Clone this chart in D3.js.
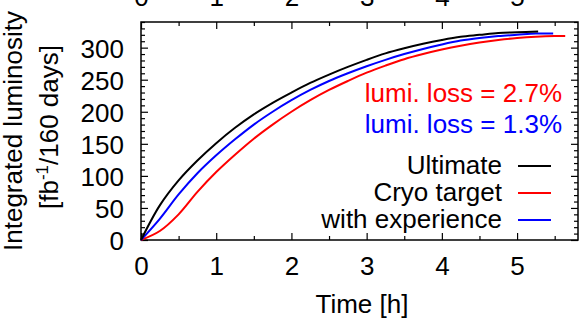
<!DOCTYPE html>
<html>
<head>
<meta charset="utf-8">
<script src="https://cdn.jsdelivr.net/npm/d3@7"></script>
<style>
  html, body { margin: 0; padding: 0; background: #fff; }
  svg { display: block; }
  text { font-family: "Liberation Sans", Arial, sans-serif; }
</style>
</head>
<body>
<script>
// values
const tUltimate = [0, 0.25, 0.5, 0.75, 1, 1.25, 1.5, 1.75, 2, 2.25, 2.5, 2.75, 3, 3.25, 3.5, 3.75, 4, 4.25, 4.5, 4.75, 5, 5.28];
const lumUltimate = [0, 54, 93, 124, 151, 175, 196, 214, 230, 245, 258, 270, 281, 291, 299, 306, 312, 317, 320, 323, 324, 325];

const tCryo = [0, 0.25, 0.5, 0.75, 1, 1.25, 1.5, 1.75, 2, 2.25, 2.5, 2.75, 3, 3.25, 3.5, 3.75, 4, 4.25, 4.5, 4.75, 5, 5.25, 5.5, 5.64];
const lumCryo = [0, 14, 40, 75, 106, 133, 158, 180, 200, 218, 234, 248, 261, 272, 282, 290, 297, 303, 308, 312, 315, 317, 318, 318];

const tExperience = [0, 0.25, 0.5, 0.75, 1, 1.25, 1.5, 1.75, 2, 2.25, 2.5, 2.75, 3, 3.25, 3.5, 3.75, 4, 4.25, 4.5, 4.75, 5, 5.25, 5.48];
const lumExperience = [0, 33, 71, 104, 132, 157, 180, 200, 218, 234, 248, 260, 271, 281, 290, 298, 305, 311, 315, 318, 320, 322, 322];

const seriesNames = ["Ultimate", "Cryo target", "with experience"];
const lossLabels = ["lumi. loss = 2.7%", "lumi. loss = 1.3%"];
const xTickValues = [0, 1, 2, 3, 4, 5];
const yTickValues = [0, 50, 100, 150, 200, 250, 300];

const W = 582, H = 322;
const plot = { left: 141, right: 578, top: 22, bottom: 240 };
const fontSize = 26;

const svg = d3.select("body").append("svg")
  .attr("width", W).attr("height", H);

const x = d3.scaleLinear().domain([0, 5.81]).range([plot.left, plot.right]);
const y = d3.scaleLinear().domain([0, 340]).range([plot.bottom, plot.top]);

// ticks: majors inward 7px, minors 4px, on all four sides
const xMinor = d3.range(0, 5.81, 0.5).filter(v => v % 1 !== 0);
const yMinor = d3.range(0, 341, 10).filter(v => v % 50 !== 0);

function axisGroup(axis, tx, ty) {
  const g = svg.append("g").attr("transform", `translate(${tx},${ty})`).call(axis);
  g.select(".domain").remove();
  g.selectAll("line").attr("stroke", "#000").attr("stroke-width", 1.2);
  g.selectAll("text").attr("fill", "#000").attr("font-size", fontSize).attr("font-family", null);
  return g;
}

// bottom
axisGroup(d3.axisBottom(x).tickValues(xTickValues).tickSize(-7).tickPadding(0).tickFormat(d3.format("d")), 0, plot.bottom)
  .selectAll("text").attr("y", 35).attr("dy", null);
axisGroup(d3.axisBottom(x).tickValues(xMinor).tickSize(-4).tickFormat(""), 0, plot.bottom);
// top (labels sit half outside the picture)
axisGroup(d3.axisTop(x).tickValues(xTickValues).tickSize(-7).tickFormat(d3.format("d")), 0, plot.top)
  .selectAll("text").attr("y", 6 - plot.top).attr("dy", null);
axisGroup(d3.axisTop(x).tickValues(xMinor).tickSize(-4).tickFormat(""), 0, plot.top);
// left
axisGroup(d3.axisLeft(y).tickValues(yTickValues).tickSize(-7).tickFormat(d3.format("d")), plot.left, 0)
  .selectAll("text").attr("x", 124 - plot.left).attr("dy", "0.36em");
axisGroup(d3.axisLeft(y).tickValues(yMinor).tickSize(-4).tickFormat(""), plot.left, 0);
// right
axisGroup(d3.axisRight(y).tickValues(yTickValues).tickSize(-7).tickFormat(""), plot.right, 0);
axisGroup(d3.axisRight(y).tickValues(yMinor).tickSize(-4).tickFormat(""), plot.right, 0);

// frame
svg.append("rect")
  .attr("x", plot.left).attr("y", plot.top)
  .attr("width", plot.right - plot.left).attr("height", plot.bottom - plot.top)
  .attr("fill", "none").attr("stroke", "#000").attr("stroke-width", 1.5);

// curves
const line = d3.line()
  .x(d => x(d[0]))
  .y(d => y(d[1]))
  .curve(d3.curveCatmullRom.alpha(0.5));

const series = [
  { name: seriesNames[0], color: "#000000", pts: d3.zip(tUltimate, lumUltimate) },
  { name: seriesNames[1], color: "#ff0000", pts: d3.zip(tCryo, lumCryo) },
  { name: seriesNames[2], color: "#0000ff", pts: d3.zip(tExperience, lumExperience) }
];

// red first, then blue, black on top
[series[1], series[2], series[0]].forEach(s => {
  svg.append("path")
    .attr("d", line(s.pts))
    .attr("fill", "none")
    .attr("stroke", s.color)
    .attr("stroke-width", 2);
});

// lumi loss notes
svg.append("text").attr("x", 562).attr("y", 102)
  .attr("text-anchor", "end").attr("font-size", fontSize).attr("fill", "#ff0000")
  .text(lossLabels[0]);
svg.append("text").attr("x", 562).attr("y", 133)
  .attr("text-anchor", "end").attr("font-size", fontSize).attr("fill", "#0000ff")
  .text(lossLabels[1]);

// legend
const legendBase = [174, 201, 228];
series.forEach((s, i) => {
  svg.append("text").attr("x", 502).attr("y", legendBase[i])
    .attr("text-anchor", "end").attr("font-size", fontSize).attr("fill", "#000")
    .text(s.name);
  svg.append("line")
    .attr("x1", 518).attr("x2", 551)
    .attr("y1", legendBase[i] - 8).attr("y2", legendBase[i] - 8)
    .attr("stroke", s.color).attr("stroke-width", 2);
});

// axis titles
svg.append("text").attr("x", 362).attr("y", 313)
  .attr("text-anchor", "middle").attr("font-size", fontSize).attr("fill", "#000")
  .text("Time [h]");

svg.append("text")
  .attr("transform", "translate(22,131) rotate(-90)")
  .attr("text-anchor", "middle").attr("font-size", fontSize).attr("fill", "#000")
  .text("Integrated luminosity");

const yt2 = svg.append("text")
  .attr("transform", "translate(58,127) rotate(-90)")
  .attr("text-anchor", "middle").attr("font-size", fontSize).attr("fill", "#000");
yt2.append("tspan").text("[fb");
yt2.append("tspan").attr("font-size", 17).attr("baseline-shift", "10").text("-1");
yt2.append("tspan").text("/160 days]");
</script>
</body>
</html>
